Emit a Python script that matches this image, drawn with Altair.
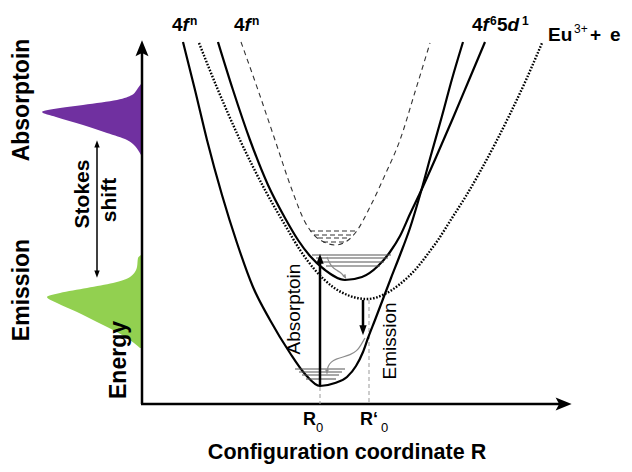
import altair as alt
import pandas as pd

# ---------------- data (picture units: x to the right, y downward) ----------------
# potential curves
GROUND_X = [183, 195, 207, 222, 237, 253, 270, 290, 305, 320, 335, 347, 356, 363, 368, 375, 383, 391, 400, 410, 420, 431, 442, 452, 463]
GROUND_Y = [42, 90, 140, 195, 243, 287, 320, 353, 374, 386, 383, 377, 366, 352, 338, 320, 299, 278, 255, 228, 195, 155, 116, 79, 42]

EXC_X = [218, 233, 250, 268, 285, 298, 310, 325, 345, 362, 378, 390, 400, 410, 420, 437, 453, 469, 485]
EXC_Y = [42, 90, 140, 185, 218, 240, 256, 270, 280, 277, 266, 252, 236, 214, 193, 155, 118, 80, 42]

ION_X = [199, 218, 240, 265, 285, 300, 315, 333, 350, 367, 385, 400, 415, 427, 438, 452, 466, 481, 496, 510, 526, 542]
ION_Y = [43, 90, 140, 190, 225, 250, 270, 287, 296, 299, 294, 284, 270, 255, 240, 218, 196, 170, 142, 114, 80, 43]

FN2_X = [241, 258, 275, 292, 305, 314, 324, 335, 347, 356, 370, 385, 400, 415, 430]
FN2_Y = [42, 90, 140, 190, 222, 235, 242, 245, 241, 232, 207, 175, 140, 92, 43]

# vibrational levels: (y, x_start, x_end)
FN2_LEV_Y = [231, 235, 238, 242]
FN2_LEV_X1 = [310, 314, 318, 323]
FN2_LEV_X2 = [356, 352, 349, 345]

EXC_LEV_Y = [255, 258, 262, 266]
EXC_LEV_X1 = [312, 316, 320, 326]
EXC_LEV_X2 = [391, 388, 384, 380]

GND_LEV_Y = [369, 372, 375, 379]
GND_LEV_X1 = [295, 299, 302, 306]
GND_LEV_X2 = [345, 342, 339, 336]

# band shapes on the energy axis: (y, x)
ABS_Y = [84, 88, 91, 95, 100, 105, 108, 112, 117, 125, 133, 140, 146, 150, 155]
ABS_X = [141, 138, 136, 132, 117, 83, 60, 42, 56, 83, 107, 127, 135, 138, 141]
EMI_Y = [255, 258, 267, 277, 283, 288, 293, 297, 303, 312, 322, 330, 338, 343, 348]
EMI_X = [141, 138, 137, 130, 113, 87, 60, 47, 57, 77, 97, 113, 127, 134, 140]
AXIS_X = 142
AXIS_Y = 404

# non-radiative relaxation (wavy) paths
WAVE1_X = [327, 329, 332, 336, 340, 344]
WAVE1_Y = [257, 262, 267, 270, 272, 276]
WAVE2_X = [365, 361, 357, 350, 343, 336, 331, 328, 327]
WAVE2_Y = [338, 345, 351, 355, 357, 359, 362, 366, 371]

# ---------------- helpers ----------------
XS = alt.Scale(domain=[8, 616], nice=False, zero=False)
YS = alt.Scale(domain=[8, 464], nice=False, zero=False, reverse=True)
FONT = "Liberation Sans"


def X(f="x"):
    return alt.X(f, type="quantitative", scale=XS, axis=None)


def Y(f="y"):
    return alt.Y(f, type="quantitative", scale=YS, axis=None)


def curve(xs, ys, interp="monotone", **kw):
    df = pd.DataFrame({"x": xs, "y": ys, "i": range(len(xs))})
    return alt.Chart(df).mark_line(interpolate=interp, **kw).encode(
        x=X(), y=Y(), order=alt.Order("i:Q"))


def levels(ys, x1, x2, **kw):
    df = pd.DataFrame({"y": ys, "x": x1, "x2": x2})
    return alt.Chart(df).mark_rule(**kw).encode(x=X(), x2="x2:Q", y=Y())


def band(ys, xs, color):
    df = pd.DataFrame({"y": ys, "x": xs, "base": [AXIS_X] * len(xs)})
    return alt.Chart(df).mark_area(orient="horizontal", interpolate="monotone", color=color).encode(
        y=Y(), x=X(), x2="base:Q")


def seg(x1, y1, x2, y2, **kw):
    df = pd.DataFrame({"x": [x1], "y": [y1], "x2": [x2], "y2": [y2]})
    return alt.Chart(df).mark_rule(**kw).encode(x=X(), y=Y(), x2="x2:Q", y2="y2:Q")


ARROW = "M0,-1L0.75,0.85L0,0.45L-0.75,0.85Z"
TRI = "M0,-1L0.7,0.9L-0.7,0.9Z"


def head(x, y, angle, size, shape=TRI, color="black"):
    df = pd.DataFrame({"x": [x], "y": [y]})
    return alt.Chart(df).mark_point(shape=shape, filled=True, size=size, angle=angle,
                                    color=color, opacity=1, strokeWidth=0).encode(x=X(), y=Y())


def text(t, x, y, size, weight="bold", style="normal", angle=0, align="left", baseline="alphabetic"):
    df = pd.DataFrame({"x": [x], "y": [y], "t": [t]})
    kw = dict(font=FONT, fontSize=size, fontWeight=weight, fontStyle=style, align=align,
              baseline=baseline, color="black")
    if angle:
        kw["angle"] = angle
    return alt.Chart(df).mark_text(**kw).encode(x=X(), y=Y(), text="t:N")


layers = []
# bands
layers.append(band(ABS_Y, ABS_X, "#7030a0"))
layers.append(band(EMI_Y, EMI_X, "#92d050"))

# axes
layers.append(seg(AXIS_X, AXIS_Y, AXIS_X, 52, strokeWidth=2.5, color="black"))
layers.append(seg(AXIS_X - 1, AXIS_Y, 560, AXIS_Y, strokeWidth=2.5, color="black"))
layers.append(head(AXIS_X, 49, 0, 300, ARROW))
layers.append(head(563, AXIS_Y, 90, 300, ARROW))

# R0 guides
layers.append(seg(320, 387, 320, AXIS_Y, strokeWidth=1, color="#999999", strokeDash=[4, 3]))
layers.append(seg(369, 300, 369, AXIS_Y, strokeWidth=1, color="#999999", strokeDash=[4, 3]))

# curves
layers.append(curve(FN2_X, FN2_Y, color="#333333", strokeWidth=1.1, strokeDash=[5, 4]))
layers.append(curve(ION_X, ION_Y, color="black", strokeWidth=2.4, strokeDash=[1.6, 1.6]))
layers.append(curve(GROUND_X, GROUND_Y, color="black", strokeWidth=2.2))
layers.append(curve(EXC_X, EXC_Y, color="black", strokeWidth=2.2))

# levels
layers.append(levels(FN2_LEV_Y, FN2_LEV_X1, FN2_LEV_X2, color="#333333", strokeWidth=1.1, strokeDash=[5, 3]))
layers.append(levels(EXC_LEV_Y, EXC_LEV_X1, EXC_LEV_X2, color="#555555", strokeWidth=1.1))
layers.append(levels(GND_LEV_Y, GND_LEV_X1, GND_LEV_X2, color="#555555", strokeWidth=1.1))

# relaxation
layers.append(curve(WAVE1_X, WAVE1_Y, interp="basis", color="#8c8c8c", strokeWidth=1.2))
layers.append(curve(WAVE2_X, WAVE2_Y, interp="basis", color="#8c8c8c", strokeWidth=1.2))
layers.append(head(345, 277, 150, 30, TRI, "#8c8c8c"))
layers.append(head(327, 372, 180, 30, TRI, "#8c8c8c"))

# absorption / emission arrows
layers.append(seg(320, 386, 320, 262, strokeWidth=2.5, color="black"))
layers.append(head(320, 259, 0, 110))
layers.append(seg(363, 300, 363, 326, strokeWidth=2.5, color="black"))
layers.append(head(363, 330, 180, 110))

# Stokes shift arrow
layers.append(seg(97, 146, 97, 272, strokeWidth=1.5, color="black"))
layers.append(head(97, 144, 0, 60))
layers.append(head(97, 274, 180, 60))

# texts: side labels
layers.append(text("Absorptoin", 22, 100, 23, angle=270, align="center", baseline="middle"))
layers.append(text("Emission", 22, 290, 23, angle=270, align="center", baseline="middle"))
layers.append(text("Stokes", 83, 194, 21, angle=270, align="center", baseline="middle"))
layers.append(text("shift", 110, 200, 21, angle=270, align="center", baseline="middle"))
layers.append(text("Energy", 119, 360, 23, angle=270, align="center", baseline="middle"))

# in-plot labels
layers.append(text("Absorptoin", 294, 309, 19, weight="normal", angle=270, align="center", baseline="middle"))
layers.append(text("Emission", 390, 341, 19, weight="normal", angle=270, align="center", baseline="middle"))

# state labels
for x0 in (172, 234):
    layers.append(text("4", x0, 31, 19))
    layers.append(text("f", x0 + 10.5, 31, 19, style="italic"))
    layers.append(text("n", x0 + 18, 25, 12))
layers.append(text("4", 472, 31, 19))
layers.append(text("f", 482.5, 31, 19, style="italic"))
layers.append(text("6", 490, 25, 12))
layers.append(text("5", 497, 31, 19))
layers.append(text("d", 507.5, 31, 19, style="italic"))
layers.append(text("1", 522, 25, 12))
layers.append(text("Eu", 548, 41, 19))
layers.append(text("3+", 574, 33, 12, weight="normal"))
layers.append(text("+", 590, 41, 19))
layers.append(text("e", 610, 41, 19))

# x-axis labels
layers.append(text("R", 303, 425, 18))
layers.append(text("0", 316, 432, 13, weight="normal"))
layers.append(text("R\u2018", 360, 425, 18))
layers.append(text("0", 381, 432, 13, weight="normal"))
layers.append(text("Configuration coordinate R", 347, 459, 21.5, align="center"))

chart = alt.layer(*layers).properties(
    width=608, height=456,
    autosize=alt.AutoSizeParams(type="none"),
    padding={"left": 0, "top": 0, "right": 8, "bottom": 0},
).configure_view(stroke=None)

chart.save("out.html", embed_options={"renderer": "svg", "actions": False})
